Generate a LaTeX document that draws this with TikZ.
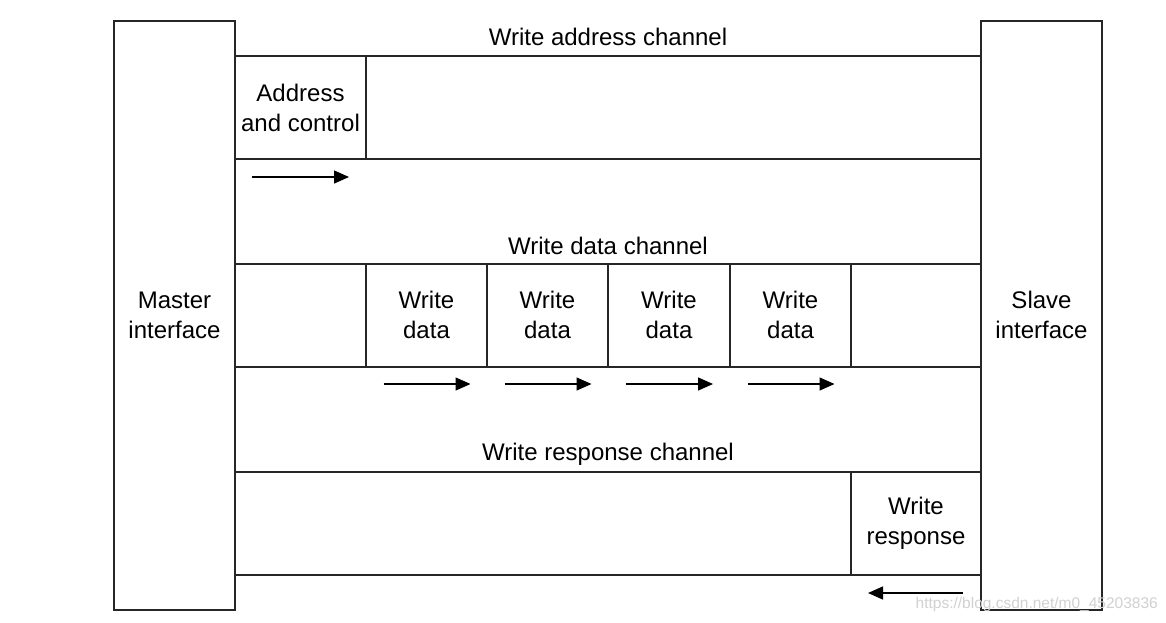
\documentclass[tikz,border=0pt]{standalone}
\usepackage{fontspec}
\setmainfont{Liberation Sans}
\usetikzlibrary{arrows.meta}
\begin{document}
\begin{tikzpicture}[x=1pt,y=-1pt,
  box/.style={draw=black!85,line width=1.6pt,inner sep=0pt},
  lbl/.style={font=\fontsize{24}{30}\selectfont,align=center,text=black,inner sep=0pt},
  flow/.style={line width=1.4pt,-{Triangle[length=15pt,width=13pt]}},
  wmark/.style={font=\fontsize{15.5}{18}\selectfont,text=black!18,inner sep=0pt}]
\useasboundingbox[fill=white] (0,0) rectangle (1166,622);
% interfaces
\draw[box] (114,21) rectangle (235,610);
\draw[box] (981,21) rectangle (1102,610);
\node[lbl] (master) at (174.5,315) {Master\\interface};
\node[lbl] (slave) at (1041.5,315) {Slave\\interface};
% write address channel
\node[lbl] (wac) at (608,37) {Write address channel};
\draw[box] (235,56) -- (981,56) (235,159) -- (981,159);
\draw[box] (366,56) -- (366,159);
\node[lbl] (ac) at (300.5,107.5) {Address\\and control};
\coordinate (a1) at (252,177); \coordinate (a2) at (349,177);
\draw[flow] (a1) -- (a2);
% write data channel
\node[lbl] (wdc) at (608,246) {Write data channel};
\draw[box] (235,264) -- (981,264) (235,367) -- (981,367);
\foreach \x in {366,487,608,730,851} \draw[box] (\x,264) -- (\x,367);
\foreach \x/\n in {426.5/1,547.5/2,669/3,790.5/4} {
  \node[lbl] (wd\n) at (\x,315) {Write\\data};
  \coordinate (s\n) at (\x-43,384); \coordinate (e\n) at (\x+44,384);
  \draw[flow] (s\n) -- (e\n);
}
% write response channel
\node[lbl] (wrc) at (608,454) {Write response channel};
\draw[box] (235,472) -- (981,472) (235,575) -- (981,575);
\draw[box] (851,472) -- (851,575);
\node[lbl] (wr) at (916,523.5) {Write\\response};
\coordinate (r1) at (963,593); \coordinate (r2) at (868,593);
\draw[flow] (r1) -- (r2);
% watermark
\node[wmark,anchor=east] (wm) at (1158,604) {https://blog.csdn.net/m0\_45203836};
\end{tikzpicture}
\end{document}
